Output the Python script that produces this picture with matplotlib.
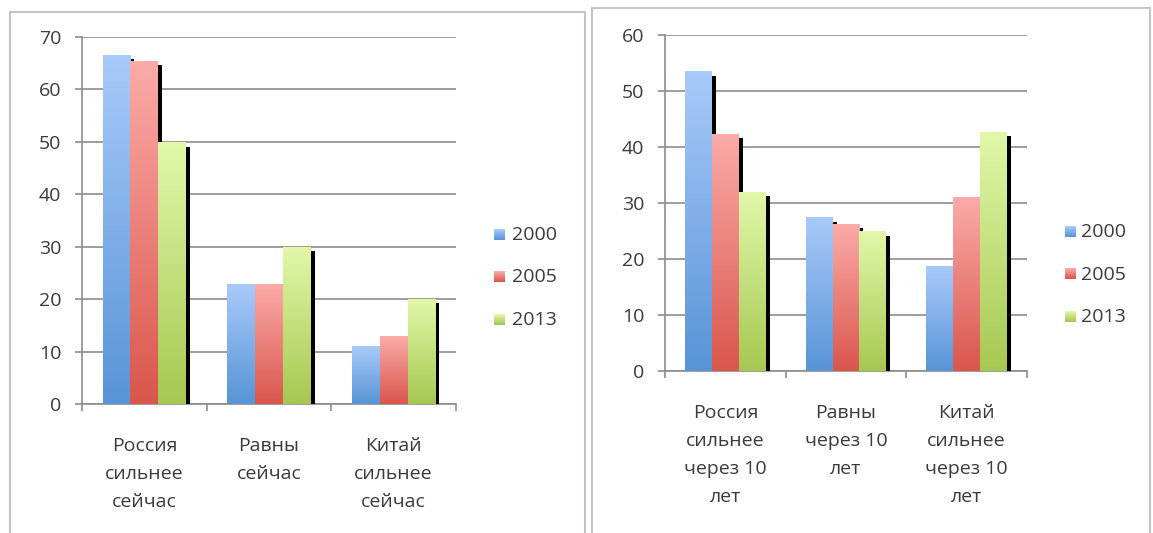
import numpy as np
import matplotlib
matplotlib.use('Agg')
import matplotlib.pyplot as plt
from matplotlib.colors import LinearSegmentedColormap, to_rgb
from matplotlib.patches import Rectangle
from matplotlib.transforms import ScaledTranslation

#? Data
years = ['2000', '2005', '2013']

cats_now = ['Россия\nсильнее\nсейчас', 'Равны\nсейчас', 'Китай\nсильнее\nсейчас']
now_2000 = [66.5, 22.7, 10.9]
now_2005 = [65.4, 22.7, 12.9]
now_2013 = [49.8, 29.9, 20.0]

cats_10 = ['Россия\nсильнее\nчерез 10\nлет', 'Равны\nчерез 10\nлет',
           'Китай\nсильнее\nчерез 10\nлет']
in10_2000 = [53.4, 27.4, 18.7]
in10_2005 = [42.3, 26.2, 30.9]
in10_2013 = [31.9, 24.9, 42.6]

# bottom -> top gradient colours for each year
grad = [('#5894d7', '#a8caf9'), ('#d9564c', '#fbaba8'), ('#a6c851', '#e1f8a9')]
txt_col = '#3a3a3a'
ax_col = '#8c8c8c'
fs = 14

plt.rcParams['font.family'] = ['Open Sans', 'DejaVu Sans']

W, H = 1153, 533
fig = plt.figure(figsize=(W / 100, H / 100), dpi=100)


def fx(px):
    return px / W


def fy(py):
    return 1 - py / H


def panel(box, cats, series, ymax, lab_pad):
    # box = (left, top, right, bottom) in pixels of the plotting area
    l, t, r, b = box
    ax = fig.add_axes([fx(l), fy(b), fx(r - l), (b - t) / H])
    w = 1 / 4.5
    shift = ScaledTranslation(0.04, -0.04, fig.dpi_scale_trans)
    gvec = np.linspace(0, 1, 256).reshape(-1, 1)
    for i, vals in enumerate(series):
        cm = LinearSegmentedColormap.from_list('g%d' % i, grad[i])
        for j, v in enumerate(vals):
            x0 = j + 0.5 - 1.5 * w + i * w
            sh = Rectangle((x0, 0), w, v, fc='black', lw=0,
                           transform=ax.transData + shift, zorder=2 + 2 * i)
            ax.add_patch(sh)
            ax.imshow(gvec, cmap=cm, extent=(x0, x0 + w, 0, v), origin='lower',
                      aspect='auto', interpolation='bilinear', zorder=3 + 2 * i)
    ax.set_xlim(0, len(cats))
    ax.set_ylim(0, ymax)
    ax.set_yticks(range(0, ymax + 1, 10))
    ax.set_xticks([j + 0.5 for j in range(len(cats))])
    ax.set_xticklabels(cats, linespacing=1.72)
    ax.set_xticks(range(len(cats) + 1), minor=True)
    ax.tick_params(axis='x', which='major', length=0, pad=lab_pad,
                   labelsize=fs, labelcolor=txt_col)
    ax.tick_params(axis='x', which='minor', length=5, width=1.2, color=ax_col,
                   direction='out')
    ax.tick_params(axis='y', length=5, width=1.2, color=ax_col, pad=10,
                   labelsize=fs, labelcolor=txt_col)
    ax.grid(axis='y', color=ax_col, lw=1.2, zorder=0.5)
    ax.set_axisbelow(True)
    for s in ['top', 'right']:
        ax.spines[s].set_visible(False)
    for s in ['left', 'bottom']:
        ax.spines[s].set_color(ax_col)
        ax.spines[s].set_linewidth(1.2)
    return ax


panel((82, 37, 456, 404), cats_now, [now_2000, now_2005, now_2013], 70, 23.5)
panel((665, 35, 1027, 371), cats_10, [in10_2000, in10_2005, in10_2013], 60, 23.5)


def legend(mx, tx, ys):
    for i, yr in enumerate(years):
        c0 = np.array(to_rgb(grad[i][1]))
        c1 = np.array(to_rgb(grad[i][0]))
        k = np.linspace(0, 1, 11).reshape(-1, 1, 1)
        img = (c0 * (1 - k) + c1 * k) * np.ones((1, 11, 1))
        fig.figimage(img, xo=mx, yo=H - ys[i] - 5, origin='upper', zorder=5)
        fig.text(fx(tx), fy(ys[i]), yr, ha='left', va='center',
                 fontsize=fs, color=txt_col)


legend(494, 512, [235, 277, 320])
legend(1065, 1081, [232, 274.5, 317.5])

# panel frames
for (x0, y0, x1) in [(10, 12, 585), (592, 8, 1150)]:
    fig.add_artist(Rectangle((fx(x0), -0.1), fx(x1 - x0), fy(y0) + 0.1,
                             transform=fig.transFigure, fill=False,
                             ec='#c4c4c4', lw=1.5))

fig.savefig('out.png', dpi=100)
